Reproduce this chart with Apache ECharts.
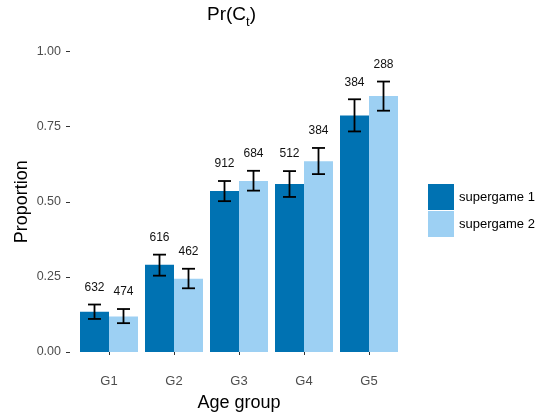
<!DOCTYPE html>
<html>
<head>
<meta charset="utf-8">
<script src="https://cdn.jsdelivr.net/npm/echarts@6/dist/echarts.min.js"></script>
<style>
html,body{margin:0;padding:0;background:#fff;}
#chart{width:541px;height:417px;}
</style>
</head>
<body>
<div id="chart"></div>
<script>
var categories = ['G1', 'G2', 'G3', 'G4', 'G5'];
var seriesNames = ['supergame 1', 'supergame 2'];
var sg1 = [0.134, 0.290, 0.536, 0.559, 0.787];
var sg2 = [0.118, 0.244, 0.569, 0.635, 0.852];
var sg1Low = [0.110, 0.254, 0.502, 0.516, 0.734];
var sg1High = [0.158, 0.324, 0.569, 0.602, 0.841];
var sg2Low = [0.096, 0.212, 0.537, 0.592, 0.803];
var sg2High = [0.143, 0.277, 0.603, 0.679, 0.900];
var sg1N = [632, 616, 912, 512, 384];
var sg2N = [474, 462, 684, 384, 288];
var yTicks = [0, 0.25, 0.5, 0.75, 1];

var colors = ['#0072B2', '#9DD0F3'];
var FONT = 'Liberation Sans, Arial, Helvetica, sans-serif';
var GAP = 0.1077;

function errData(low, high, n) {
  return categories.map(function (c, i) { return [i, low[i], high[i], n[i]]; });
}

function makeErr(seriesIdx) {
  return function (params, api) {
    var i = api.value(0);
    var lo = api.coord([i, api.value(1)]);
    var hi = api.coord([i, api.value(2)]);
    var band = api.size([1, 0])[0];
    var barW = band * (1 - GAP) / 2;
    var cx = lo[0] + (seriesIdx === 0 ? -barW / 2 : barW / 2);
    var hw = 6.5;
    var st = { stroke: '#000', lineWidth: 1.8 };
    return {
      type: 'group',
      children: [
        { type: 'line', shape: { x1: cx, y1: lo[1], x2: cx, y2: hi[1] }, style: st },
        { type: 'line', shape: { x1: cx - hw, y1: lo[1], x2: cx + hw, y2: lo[1] }, style: st },
        { type: 'line', shape: { x1: cx - hw, y1: hi[1], x2: cx + hw, y2: hi[1] }, style: st },
        { type: 'text', style: { x: cx, y: hi[1] - 17, text: String(api.value(3)), fill: '#111', font: '12px ' + FONT, textAlign: 'center', textVerticalAlign: 'middle' } }
      ]
    };
  };
}

var chart = echarts.init(document.getElementById('chart'), null, { renderer: 'canvas' });
chart.setOption({
  animation: false,
  backgroundColor: '#fff',
  title: {
    text: 'Pr(C{s|t})',
    left: 202,
    top: 0,
    textStyle: {
      fontFamily: FONT, fontSize: 19, fontWeight: 'normal', color: '#000',
      rich: { s: { fontFamily: FONT, fontSize: 13, color: '#000', verticalAlign: 'bottom', padding: [0, 0, -5, 0] } }
    }
  },
  legend: {
    orient: 'vertical',
    left: 428,
    top: 184,
    padding: 0,
    itemWidth: 26,
    itemHeight: 26,
    itemGap: 1,
    icon: 'rect',
    data: seriesNames,
    textStyle: { fontFamily: FONT, fontSize: 13, color: '#000' }
  },
  grid: { left: 76.5, top: 51.5, width: 325, height: 301, containLabel: false },
  xAxis: {
    type: 'category',
    data: categories,
    offset: 15,
    axisLine: { show: false },
    axisTick: { show: true, alignWithLabel: true, length: 3, lineStyle: { color: '#333', width: 1 } },
    axisLabel: { fontFamily: FONT, fontSize: 13, color: '#4d4d4d', margin: 8 },
    name: 'Age group',
    nameLocation: 'middle',
    nameGap: 27,
    nameMoveOverlap: false,
    nameTextStyle: { fontFamily: FONT, fontSize: 18, color: '#000' }
  },
  yAxis: {
    type: 'value',
    min: 0,
    max: 1,
    interval: 0.25,
    offset: 6.5,
    splitLine: { show: false },
    axisLine: { show: false },
    axisTick: { show: true, length: 4, lineStyle: { color: '#333', width: 1 } },
    axisLabel: {
      fontFamily: FONT, fontSize: 12.5, color: '#4d4d4d', margin: 9,
      formatter: function (v) { return v.toFixed(2); }
    },
    name: 'Proportion',
    nameLocation: 'middle',
    nameGap: 39,
    nameMoveOverlap: false,
    nameTextStyle: { fontFamily: FONT, fontSize: 18, color: '#000' }
  },
  series: [
    { name: seriesNames[0], type: 'bar', data: sg1, barGap: '0%', barCategoryGap: (GAP * 100) + '%', itemStyle: { color: colors[0] } },
    { name: seriesNames[1], type: 'bar', data: sg2, barGap: '0%', barCategoryGap: (GAP * 100) + '%', itemStyle: { color: colors[1] } },
    { type: 'custom', renderItem: makeErr(0), data: errData(sg1Low, sg1High, sg1N), encode: { x: 0, y: [1, 2] }, z: 5 },
    { type: 'custom', renderItem: makeErr(1), data: errData(sg2Low, sg2High, sg2N), encode: { x: 0, y: [1, 2] }, z: 5 }
  ]
});
</script>
</body>
</html>
